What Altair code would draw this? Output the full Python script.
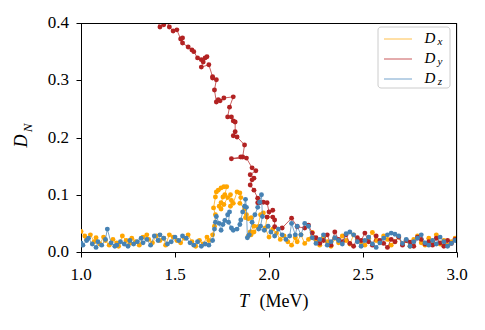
import altair as alt
import pandas as pd

series_names = ["Dx", "Dy", "Dz"]
series_colors = ["#FFA500", "#B22222", "#4682B4"]
legend_colors = ["#FFC04D", "#C9595A", "#74A3CC"]

# ---- D_x (orange) ----
Tx = [1.00, 1.02, 1.03, 1.05, 1.07, 1.08, 1.10, 1.12, 1.13, 1.15,
      1.17, 1.19, 1.20, 1.22, 1.24, 1.26, 1.27, 1.29, 1.31, 1.33,
      1.35, 1.36, 1.38, 1.40, 1.42, 1.44, 1.45, 1.47, 1.49, 1.51,
      1.53, 1.55, 1.57, 1.59, 1.61, 1.63, 1.65, 1.67, 1.68,
      1.70, 1.71, 1.715, 1.705, 1.715, 1.72, 1.73, 1.745, 1.76, 1.775,
      1.765, 1.755, 1.745, 1.735, 1.745, 1.76, 1.78, 1.795, 1.80, 1.795,
      1.81, 1.83, 1.845, 1.85, 1.845, 1.87, 1.88, 1.875, 1.89, 1.905,
      1.92, 1.90, 1.89, 1.905, 1.92, 1.94, 1.955, 1.97, 1.99, 1.98,
      2.00, 2.02, 2.04, 2.06, 2.08, 2.10,
      2.12, 2.14, 2.15, 2.17, 2.19, 2.21, 2.23, 2.25, 2.27, 2.29,
      2.31, 2.33, 2.35, 2.37, 2.39, 2.41, 2.43, 2.45, 2.47, 2.49,
      2.51, 2.53, 2.55, 2.57, 2.59, 2.61, 2.63, 2.65, 2.67, 2.69,
      2.71, 2.73, 2.75, 2.77, 2.79, 2.81, 2.83, 2.85, 2.87, 2.89,
      2.91, 2.93, 2.95, 2.97, 2.99]
Dx = [0.036, 0.028, 0.022, 0.030, 0.018, 0.025, 0.014, 0.026, 0.020, 0.012,
      0.022, 0.016, 0.010, 0.028, 0.020, 0.015, 0.024, 0.018, 0.012, 0.026,
      0.030, 0.022, 0.016, 0.028, 0.020, 0.024, 0.012, 0.030, 0.026, 0.020,
      0.016, 0.024, 0.030, 0.018, 0.010, 0.020, 0.014, 0.026, 0.020,
      0.030, 0.045, 0.065, 0.077, 0.096, 0.105, 0.108, 0.112, 0.114, 0.114,
      0.100, 0.096, 0.086, 0.080, 0.075, 0.083, 0.095, 0.100, 0.090, 0.080,
      0.085, 0.105, 0.103, 0.095, 0.085, 0.075, 0.065, 0.060, 0.058, 0.060,
      0.045, 0.035, 0.028, 0.030, 0.035, 0.044, 0.065, 0.068, 0.061, 0.042,
      0.026, 0.040, 0.033, 0.022, 0.028, 0.018,
      0.012, 0.025, 0.018, 0.030, 0.015, 0.022, 0.034, 0.020, 0.012, 0.026,
      0.018, 0.010, 0.024, 0.016, 0.028, 0.020, 0.014, 0.030, 0.022, 0.018,
      0.012, 0.024, 0.034, 0.020, 0.016, 0.028, 0.022, 0.012, 0.018, 0.026,
      0.014, 0.020, 0.010, 0.022, 0.028, 0.016, 0.012, 0.024, 0.018, 0.030,
      0.014, 0.020, 0.012, 0.018, 0.024]

# ---- D_y (red) ----
Ty = [1.38, 1.40, 1.42, 1.44, 1.46, 1.47, 1.49, 1.51, 1.53, 1.54,
      1.54, 1.57, 1.59, 1.60, 1.62, 1.64, 1.66, 1.67, 1.65, 1.64,
      1.68, 1.70, 1.70, 1.72, 1.71, 1.72, 1.73, 1.74, 1.76, 1.81,
      1.79, 1.78, 1.80, 1.81, 1.82, 1.82, 1.81, 1.83, 1.87, 1.86,
      1.85, 1.80, 1.88, 1.91, 1.93, 1.90, 1.92, 1.91, 1.90, 1.92,
      1.94, 1.94, 1.95, 1.97, 1.99, 2.00, 2.02, 1.99, 2.02, 2.03,
      2.03, 2.07, 2.12, 2.15, 2.19, 2.21, 2.23,
      2.25, 2.27, 2.29, 2.31, 2.33, 2.35, 2.37, 2.39, 2.41, 2.43,
      2.45, 2.47, 2.49, 2.51, 2.53, 2.55, 2.57, 2.59, 2.61, 2.63,
      2.65, 2.67, 2.69, 2.71, 2.73, 2.75, 2.77, 2.79, 2.81, 2.83,
      2.85, 2.87, 2.89, 2.91, 2.93, 2.95, 2.97, 2.99]
Dy = [0.430, 0.410, 0.393, 0.397, 0.402, 0.393, 0.386, 0.388, 0.372, 0.374,
      0.365, 0.358, 0.353, 0.350, 0.339, 0.336, 0.339, 0.341, 0.332, 0.323,
      0.327, 0.306, 0.304, 0.301, 0.283, 0.262, 0.266, 0.264, 0.269, 0.271,
      0.253, 0.236, 0.236, 0.229, 0.227, 0.210, 0.203, 0.201, 0.187, 0.166,
      0.166, 0.163, 0.164, 0.147, 0.142, 0.135, 0.129, 0.126, 0.117, 0.108,
      0.094, 0.086, 0.086, 0.087, 0.086, 0.070, 0.073, 0.061, 0.061, 0.056,
      0.044, 0.042, 0.059, 0.044, 0.042, 0.047, 0.033,
      0.025, 0.015, 0.020, 0.030, 0.012, 0.035, 0.022, 0.018, 0.030, 0.015,
      0.010, 0.025, 0.020, 0.033, 0.018, 0.012, 0.028, 0.020, 0.015, 0.008,
      0.022, 0.018, 0.026, 0.012, 0.020, 0.017, 0.010, 0.026, 0.022, 0.014,
      0.018, 0.012, 0.024, 0.016, 0.010, 0.020, 0.015, 0.022]

# ---- D_z (blue) ----
Tz = [1.00, 1.01, 1.03, 1.04, 1.06, 1.08, 1.09, 1.11, 1.13, 1.14,
      1.16, 1.18, 1.19, 1.21, 1.23, 1.25, 1.26, 1.28, 1.30, 1.32,
      1.33, 1.35, 1.37, 1.39, 1.41, 1.42, 1.44, 1.46, 1.48, 1.50,
      1.52, 1.54, 1.56, 1.58, 1.60, 1.62, 1.64, 1.66, 1.68,
      1.70, 1.71, 1.715, 1.72, 1.735, 1.745, 1.755, 1.765, 1.78, 1.79,
      1.785, 1.80, 1.81, 1.83, 1.845, 1.85, 1.86, 1.87, 1.875, 1.88,
      1.885, 1.895, 1.91, 1.925, 1.94, 1.95, 1.96, 1.965, 1.955, 1.945,
      1.975, 1.995, 2.01, 2.03, 2.05, 2.07, 2.09, 2.11,
      2.12, 2.14, 2.15, 2.17, 2.19, 2.21, 2.23, 2.25, 2.27, 2.29,
      2.31, 2.33, 2.35, 2.37, 2.39, 2.41, 2.43, 2.45, 2.47, 2.49,
      2.51, 2.53, 2.55, 2.57, 2.59, 2.61, 2.63, 2.65, 2.67, 2.69,
      2.71, 2.73, 2.75, 2.77, 2.79, 2.81, 2.83, 2.85, 2.87, 2.89,
      2.91, 2.93, 2.95, 2.97, 2.99]
Dz = [0.016, 0.012, 0.020, 0.024, 0.014, 0.008, 0.018, 0.012, 0.022, 0.040,
      0.016, 0.010, 0.012, 0.018, 0.014, 0.010, 0.020, 0.014, 0.018, 0.024,
      0.016, 0.022, 0.012, 0.028, 0.020, 0.030, 0.024, 0.014, 0.018, 0.026,
      0.020, 0.028, 0.024, 0.016, 0.012, 0.018, 0.010, 0.014, 0.012,
      0.020, 0.040, 0.052, 0.062, 0.050, 0.038, 0.048, 0.055, 0.065, 0.070,
      0.052, 0.042, 0.038, 0.040, 0.048, 0.056, 0.070, 0.080, 0.092, 0.078,
      0.025, 0.030, 0.052, 0.065, 0.078, 0.087, 0.100, 0.062, 0.045, 0.040,
      0.038, 0.045, 0.035, 0.028, 0.040, 0.030, 0.022, 0.028,
      0.050, 0.030, 0.045, 0.030, 0.050, 0.045, 0.025, 0.015, 0.022, 0.030,
      0.012, 0.018, 0.025, 0.020, 0.014, 0.032, 0.035, 0.030, 0.018, 0.010,
      0.020, 0.026, 0.014, 0.008, 0.016, 0.024, 0.030, 0.033, 0.031, 0.028,
      0.015, 0.022, 0.010, 0.018, 0.024, 0.030, 0.016, 0.012, 0.020, 0.014,
      0.026, 0.018, 0.010, 0.015, 0.020]

x_ticks = [1.0, 1.5, 2.0, 2.5, 3.0]
x_tick_labels = ["1.0", "1.5", "2.0", "2.5", "3.0"]
y_ticks = [0.0, 0.1, 0.2, 0.3, 0.4]
y_tick_labels = ["0.0", "0.1", "0.2", "0.3", "0.4"]

frames = []
for name, T, D in zip(series_names, [Tx, Ty, Tz], [Dx, Dy, Dz]):
    frames.append(pd.DataFrame({"T": T, "D": D, "series": name, "i": list(range(len(T)))}))
df = pd.concat(frames, ignore_index=True)

FONT = "Liberation Serif"
W, H = 376, 229

xsc = alt.Scale(domain=[1.0, 3.0], nice=False, zero=False)
ysc = alt.Scale(domain=[0.0, 0.4], nice=False)
xaxis = alt.Axis(values=x_ticks, labels=False, title=None, grid=False, tickSize=5,
                 tickColor="black", domainColor="black")
yaxis = alt.Axis(values=y_ticks, labels=False, title=None, grid=False, tickSize=5,
                 tickColor="black", domainColor="black")

layers = []
for name, col in zip(series_names, series_colors):
    base = alt.Chart(df).transform_filter(alt.datum.series == name)
    enc = dict(x=alt.X("T:Q", scale=xsc, axis=xaxis), y=alt.Y("D:Q", scale=ysc, axis=yaxis))
    layers.append(base.mark_line(color=col, strokeWidth=0.8, opacity=0.9, clip=True)
                  .encode(order="i:Q", **enc))
    layers.append(base.mark_circle(color=col, size=24, opacity=1, clip=True).encode(**enc))

# tick labels (drawn through the same scales)
layers.append(alt.Chart(pd.DataFrame({"v": x_ticks, "lab": x_tick_labels})).mark_text(
    font=FONT, fontSize=17, color="black", align="center", baseline="middle").encode(
    x=alt.X("v:Q", scale=xsc, axis=xaxis), y=alt.value(H + 23), text="lab:N"))
layers.append(alt.Chart(pd.DataFrame({"v": y_ticks, "lab": y_tick_labels})).mark_text(
    font=FONT, fontSize=17, color="black", align="right", baseline="middle").encode(
    y=alt.Y("v:Q", scale=ysc, axis=yaxis), x=alt.value(-12), text="lab:N"))


def txt(s, x, y, size, style="normal", angle=0):
    return alt.Chart(pd.DataFrame({"t": [s]})).mark_text(
        font=FONT, fontSize=size, fontStyle=style, angle=angle, color="black",
        align="center", baseline="middle").encode(text="t:N", x=alt.value(x), y=alt.value(y))


def rule(x1, x2, y1, y2, color="black", w=1):
    return alt.Chart(pd.DataFrame({"a": [0]})).mark_rule(color=color, strokeWidth=w).encode(
        x=alt.value(x1), x2=alt.value(x2), y=alt.value(y1), y2=alt.value(y2))


# frame top and right
layers.append(rule(0, W, 0.5, 0.5))
layers.append(rule(W - 0.5, W - 0.5, 0, H))

# axis titles
layers.append(txt("T", 163, 279, 18, "italic"))
layers.append(txt("(MeV)", 203, 279, 18))
layers.append(txt("D", -59, 118, 18, "italic", 270))
layers.append(txt("N", -53, 105, 13, "italic", 270))

# legend
layers.append(alt.Chart(pd.DataFrame({"a": [0]})).mark_rect(
    fill="white", fillOpacity=0.85, stroke="#cccccc", strokeWidth=1, cornerRadius=3).encode(
    x=alt.value(297), x2=alt.value(369), y=alt.value(4), y2=alt.value(65)))
subs = ["x", "y", "z"]
for k, (lc, sb) in enumerate(zip(legend_colors, subs)):
    yy = 16 + 20 * k
    layers.append(rule(303, 331, yy, yy, lc, 1))
    layers.append(txt("D", 349, yy - 1, 15, "italic"))
    layers.append(txt(sb, 359, yy + 3, 11, "italic"))

chart = alt.layer(*layers).properties(
    width=W, height=H,
    autosize=alt.AutoSizeParams(type="none"),
    padding={"left": 73, "top": 15, "right": 20, "bottom": 70},
).configure_view(stroke=None).configure(background="white")

chart.save("out.html", embed_options={"renderer": "svg", "actions": False})
